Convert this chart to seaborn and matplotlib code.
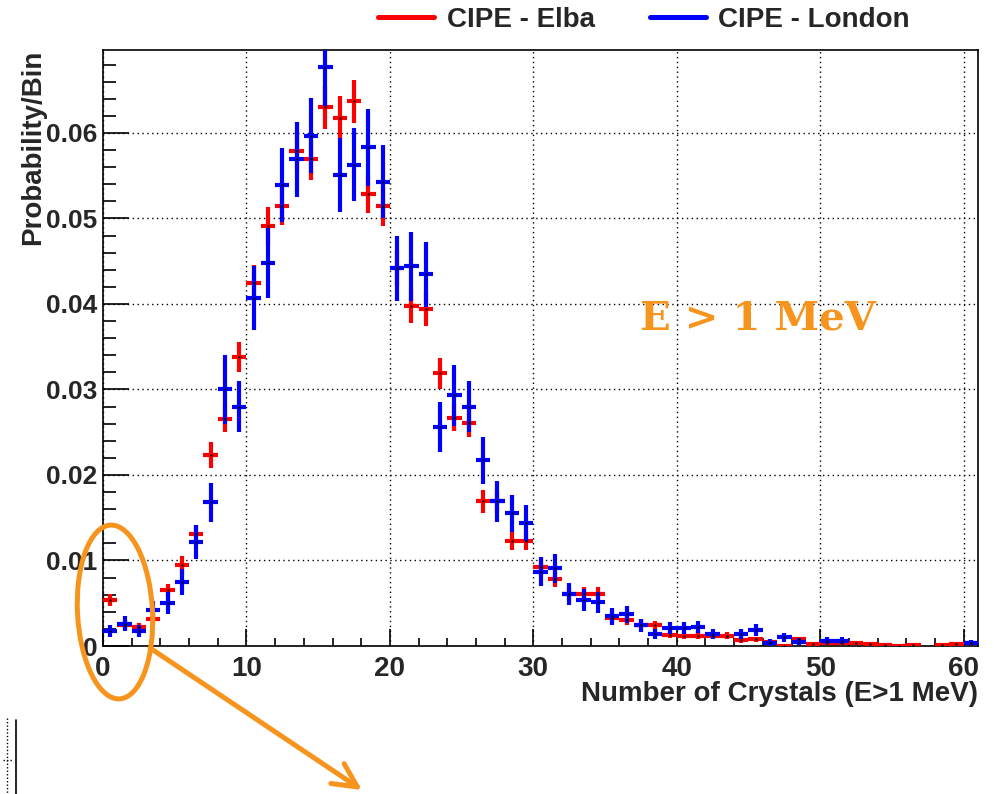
import numpy as np
import pandas as pd
import seaborn as sns
import matplotlib.pyplot as plt
from matplotlib.lines import Line2D
from matplotlib.patches import Ellipse
from matplotlib.ticker import MultipleLocator

nan = np.nan

# bins of width 1, lower edges 0..60
bins = list(range(61))

elba = [
    0.0054, 0.0025, 0.0022, 0.0032, 0.0065, 0.0095, 0.0131, 0.0223, 0.0266, 0.0338,
    0.0424, 0.0491, 0.0515, 0.0579, 0.0569, 0.0630, 0.0618, 0.0637, 0.0529, 0.0514,
    0.0442, 0.0398, 0.0394, 0.0319, 0.0267, 0.0261, 0.0169, 0.0170, 0.0123, 0.0123,
    0.0092, 0.0078, 0.0061, 0.0061, 0.0061, 0.0033, 0.0030, 0.0025, 0.0024, 0.0013,
    0.0012, 0.0012, 0.0012, 0.0012, 0.0007, 0.0008, 0.0005, 0.0000, 0.0008, 0.0002,
    0.0003, 0.0003, 0.0003, 0.0002, 0.0001, 0.0000, 0.0001, nan, 0.0001, 0.0002,
    0.0003]
elba_err = [
    0.0007, 0.0005, 0.0005, 0.0006, 0.0008, 0.0010, 0.0011, 0.0015, 0.0016, 0.0018,
    0.0021, 0.0022, 0.0023, 0.0024, 0.0024, 0.0025, 0.0025, 0.0025, 0.0023, 0.0023,
    0.0021, 0.0020, 0.0020, 0.0018, 0.0016, 0.0016, 0.0013, 0.0013, 0.0011, 0.0011,
    0.0010, 0.0009, 0.0008, 0.0008, 0.0008, 0.0006, 0.0005, 0.0005, 0.0005, 0.0004,
    0.0004, 0.0004, 0.0004, 0.0004, 0.0003, 0.0003, 0.0002, 0.0002, 0.0003, 0.0002,
    0.0002, 0.0002, 0.0002, 0.0002, 0.0001, 0.0000, 0.0001, nan, 0.0001, 0.0001,
    0.0002]

london = [
    0.0018, 0.0026, 0.0018, 0.0042, 0.0050, 0.0075, 0.0122, 0.0168, 0.0300, 0.0280,
    0.0407, 0.0448, 0.0539, 0.0569, 0.0597, 0.0677, 0.0551, 0.0563, 0.0583, 0.0543,
    0.0442, 0.0444, 0.0435, 0.0256, 0.0293, 0.0280, 0.0217, 0.0169, 0.0155, 0.0144,
    0.0087, 0.0091, 0.0061, 0.0054, 0.0051, 0.0035, 0.0037, 0.0024, 0.0014, 0.0021,
    0.0021, 0.0022, 0.0014, nan, 0.0014, 0.0019, 0.0004, 0.0010, 0.0005, nan,
    0.0006, 0.0006, nan, nan, nan, nan, nan, nan, nan, nan,
    0.0004]
london_err = [
    0.0007, 0.0009, 0.0007, 0.0011, 0.0013, 0.0015, 0.0020, 0.0023, 0.0040, 0.0030,
    0.0037, 0.0041, 0.0043, 0.0044, 0.0044, 0.0046, 0.0043, 0.0043, 0.0045, 0.0043,
    0.0038, 0.0040, 0.0038, 0.0029, 0.0036, 0.0030, 0.0027, 0.0024, 0.0022, 0.0021,
    0.0017, 0.0017, 0.0013, 0.0013, 0.0012, 0.0010, 0.0010, 0.0008, 0.0006, 0.0007,
    0.0007, 0.0007, 0.0006, nan, 0.0006, 0.0007, 0.0004, 0.0005, 0.0004, nan,
    0.0004, 0.0004, nan, nan, nan, nan, nan, nan, nan, nan,
    0.0003]

x_ticks = [0, 10, 20, 30, 40, 50, 60]
x_tick_labels = ['0', '10', '20', '30', '40', '50', '60']
y_ticks = [0, 0.01, 0.02, 0.03, 0.04, 0.05, 0.06]
y_tick_labels = ['0', '0.01', '0.02', '0.03', '0.04', '0.05', '0.06']

series = ['CIPE - Elba', 'CIPE - London']
colors = {'CIPE - Elba': '#ff0000', 'CIPE - London': '#0000ff'}
orange = '#f7941e'

df = pd.concat([
    pd.DataFrame({'bin': bins, 'value': elba, 'err': elba_err, 'sample': series[0]}),
    pd.DataFrame({'bin': bins, 'value': london, 'err': london_err, 'sample': series[1]}),
])
df['centre'] = df['bin'] + 0.5

sns.set_style('white')
plt.rcParams['font.family'] = ['Liberation Sans', 'DejaVu Sans']
plt.rcParams['font.weight'] = 'bold'

fig = plt.figure(figsize=(9.94, 7.94), dpi=100)
ax = fig.add_axes([103 / 994, 1 - 646 / 794, 875 / 994, 596 / 794])

for i, name in enumerate(series):
    d = df[df['sample'] == name].dropna()
    ax.errorbar(d['centre'], d['value'], xerr=0.5, yerr=d['err'], fmt='none',
                ecolor=colors[name], elinewidth=3, capsize=0, zorder=3 + i)
    sns.scatterplot(data=d, x='centre', y='value', color='black', s=3,
                    linewidth=0, ax=ax, zorder=6, legend=False)

ax.set_xlim(0, 61)
ax.set_ylim(0, 0.0697)
ax.set_xticks(x_ticks, x_tick_labels)
ax.set_yticks(y_ticks, y_tick_labels)
ax.xaxis.set_minor_locator(MultipleLocator(2))
ax.yaxis.set_minor_locator(MultipleLocator(0.002))
ax.tick_params(which='both', direction='in', bottom=True, left=True, top=False,
               right=False, color='black', width=1.2)
ax.tick_params(axis='x', which='major', labelsize=20, length=12, pad=7)
ax.tick_params(axis='x', which='minor', length=6)
ax.tick_params(axis='y', which='major', labelsize=19, length=18.5, pad=4)
ax.tick_params(axis='y', which='minor', length=9)

ax.grid(True, which='major', color='black', linestyle=(0, (1, 2.5)), linewidth=1)
ax.set_axisbelow(True)
for s in ax.spines.values():
    s.set_color('black')
    s.set_linewidth(1.2)

ax.set_xlabel('Number of Crystals (E>1 MeV)', fontsize=20, fontweight='bold', loc='right')
ax.xaxis.set_label_coords(1.0, -0.058)
ax.set_ylabel('Probability/Bin', fontsize=20, fontweight='bold', loc='top')
ax.yaxis.set_label_coords(-0.065, 1.0)

handles = [Line2D([0], [0], color=colors[n], lw=3.6) for n in series]
fig.legend(handles, series, loc='center', bbox_to_anchor=(0.648, 0.975), ncol=2,
           frameon=False, fontsize=20, handlelength=2.0, columnspacing=2.0,
           handletextpad=0.45)

# overlay in pixel coordinates for the annotations
ov = fig.add_axes([0, 0, 1, 1], zorder=10)
ov.set_xlim(0, 994)
ov.set_ylim(794, 0)
ov.axis('off')
ov.patch.set_alpha(0)

ov.text(640, 329, 'E > 1 MeV', color=orange, fontsize=29, fontweight='bold',
        family='DejaVu Serif', ha='left', va='baseline')
ov.add_patch(Ellipse((115, 612), width=75, height=174, angle=-3, fill=False,
                     lw=3.6, ec=orange))
ov.annotate('', xy=(362, 790), xytext=(150, 648),
            arrowprops=dict(arrowstyle='->,head_length=0.86,head_width=0.43',
                            mutation_scale=20, lw=3.6, color=orange,
                            shrinkA=0, shrinkB=0))

# cropped piece of another plot, bottom left corner
ov.plot([7, 7], [718, 794], color='black', lw=1, linestyle=(0, (1, 1.5)))
ov.plot([16, 16], [720, 794], color='black', lw=1.2)
ov.plot([3, 12], [760, 760], color='black', lw=1, linestyle=(0, (1, 1.5)))

fig.savefig('out.png', dpi=100)
